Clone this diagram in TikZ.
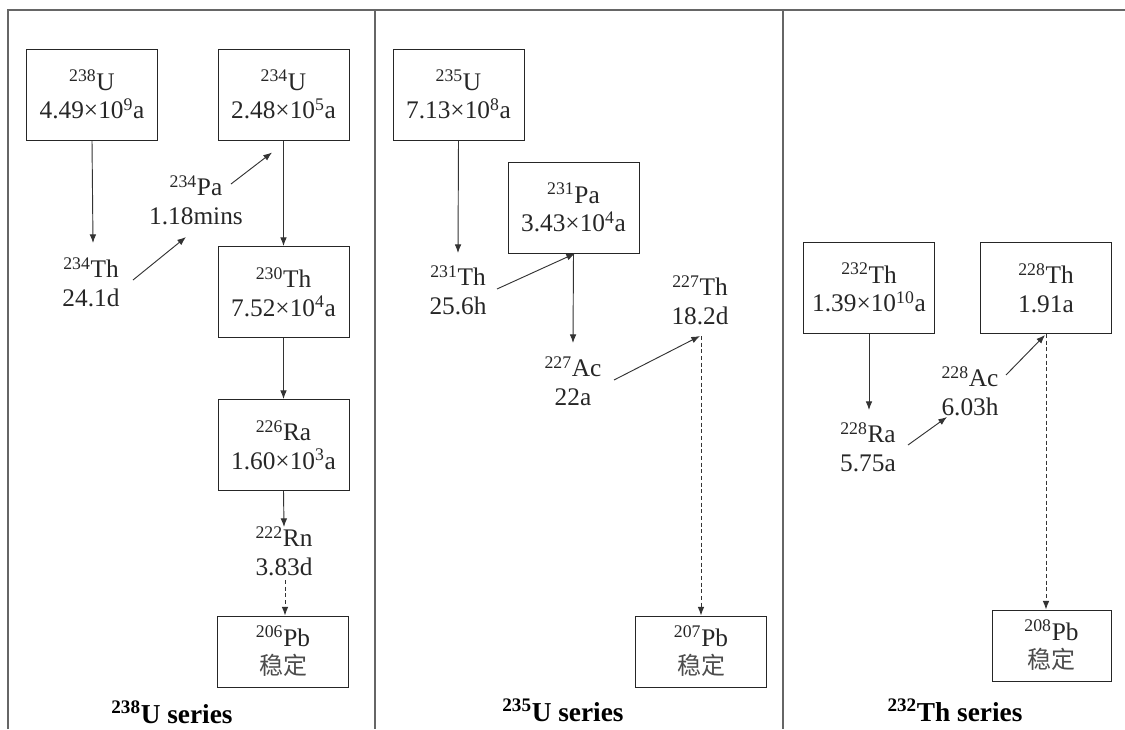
\documentclass[tikz,border=0pt]{standalone}
\usepackage{fontspec}
\setmainfont{Liberation Serif}
\newfontfamily\cjk{Noto Sans CJK SC}
\usetikzlibrary{arrows.meta}
\begin{document}
\begin{tikzpicture}[x=0.75pt,y=-0.75pt,
  every node/.style={font=\fontsize{19}{21.5}\selectfont, text=black!85, align=center, inner sep=0pt},
  nbox/.style={draw=black!85, line width=0.75pt, minimum width=98.25pt, minimum height=68.25pt},
  pbbox/.style={draw=black!85, line width=0.75pt, minimum width=98.25pt, minimum height=53.25pt},
  arr/.style={draw=black!80, line width=0.7pt, -{Latex[length=6.5pt,width=5pt]}},
  darr/.style={arr, dash pattern=on 3pt off 2pt},
  frame/.style={draw=black!60, line width=1.1pt},
  ttl/.style={font=\fontsize{20.5}{23}\selectfont\bfseries, text=black}]
\useasboundingbox (0,0) rectangle (1125,729);
% frame
\draw[frame] (8,729) -- (8,10) -- (1125,10);
\draw[frame] (375,10) -- (375,729);
\draw[frame] (783,10) -- (783,729);
% 238U series
\node[nbox] (U238) at (92,94.5) {\textsuperscript{238}U\\4.49×10\textsuperscript{9}a};
\node[nbox] (U234) at (283.5,94.5) {\textsuperscript{234}U\\2.48×10\textsuperscript{5}a};
\node (Pa234) at (196,200) {\textsuperscript{234}Pa\\1.18mins};
\node (Th234) at (91,282) {\textsuperscript{234}Th\\24.1d};
\node[nbox] (Th230) at (283.5,292) {\textsuperscript{230}Th\\7.52×10\textsuperscript{4}a};
\node[nbox] (Ra226) at (283.5,445) {\textsuperscript{226}Ra\\1.60×10\textsuperscript{3}a};
\node (Rn222) at (284,551) {\textsuperscript{222}Rn\\3.83d};
\node[pbbox] (Pb206) at (283,651.5) {\textsuperscript{206}Pb\\{\cjk\fontsize{18}{21.5}\selectfont\color{black!70} 稳定}};
\node[ttl] (S238) at (172,712) {\textsuperscript{238}U series};
\draw[arr] (U238.south) -- ([shift={(2,-39)}]Th234.center);
\draw[arr] ([shift={(42,-2)}]Th234.center) -- ([shift={(-10,37)}]Pa234.center);
\draw[arr] ([shift={(35,-16)}]Pa234.center) -- ([shift={(-11.5,12)}]U234.south);
\draw[arr] (U234.south) -- (Th230.north);
\draw[arr] (Th230.south) -- (Ra226.north);
\draw[arr] (Ra226.south) -- ([shift={(0,-24)}]Rn222.center);
\draw[darr] ([shift={(1,29)}]Rn222.center) -- ([shift={(2,0)}]Pb206.north);
% 235U series
\node[nbox] (U235) at (458.5,94.5) {\textsuperscript{235}U\\7.13×10\textsuperscript{8}a};
\node[nbox] (Pa231) at (573.5,207.5) {\textsuperscript{231}Pa\\3.43×10\textsuperscript{4}a};
\node (Th231) at (458,290) {\textsuperscript{231}Th\\25.6h};
\node (Th227) at (700,300) {\textsuperscript{227}Th\\18.2d};
\node (Ac227) at (573,381) {\textsuperscript{227}Ac\\22a};
\node[pbbox] (Pb207) at (701,651.5) {\textsuperscript{207}Pb\\{\cjk\fontsize{18}{21.5}\selectfont\color{black!70} 稳定}};
\node[ttl] (S235) at (563,710) {\textsuperscript{235}U series};
\draw[arr] (U235.south) -- ([shift={(0,-37)}]Th231.center);
\draw[arr] ([shift={(39,-1)}]Th231.center) -- ([shift={(1.5,0)}]Pa231.south);
\draw[arr] (Pa231.south) -- ([shift={(0,-38)}]Ac227.center);
\draw[arr] ([shift={(41,-1)}]Ac227.center) -- ([shift={(0,36)}]Th227.center);
\draw[darr] ([shift={(1,36)}]Th227.center) -- (Pb207.north);
% 232Th series
\node[nbox] (Th232) at (869,287.5) {\textsuperscript{232}Th\\1.39×10\textsuperscript{10}a};
\node[nbox] (Th228) at (1046,288) {\textsuperscript{228}Th\\1.91a};
\node (Ac228) at (970,391) {\textsuperscript{228}Ac\\6.03h};
\node (Ra228) at (868,447) {\textsuperscript{228}Ra\\5.75a};
\node[pbbox, minimum width=89.25pt] (Pb208) at (1051.5,645.5) {\textsuperscript{208}Pb\\{\cjk\fontsize{18}{21.5}\selectfont\color{black!70} 稳定}};
\node[ttl] (S232) at (955,710) {\textsuperscript{232}Th series};
\draw[arr] (Th232.south) -- ([shift={(1,-37)}]Ra228.center);
\draw[arr] ([shift={(40,-2)}]Ra228.center) -- ([shift={(-23,26)}]Ac228.center);
\draw[arr] ([shift={(36,-16)}]Ac228.center) -- ([shift={(-1,1)}]Th228.south);
\draw[darr] (Th228.south) -- ([shift={(-5.5,0)}]Pb208.north);
\end{tikzpicture}
\end{document}
